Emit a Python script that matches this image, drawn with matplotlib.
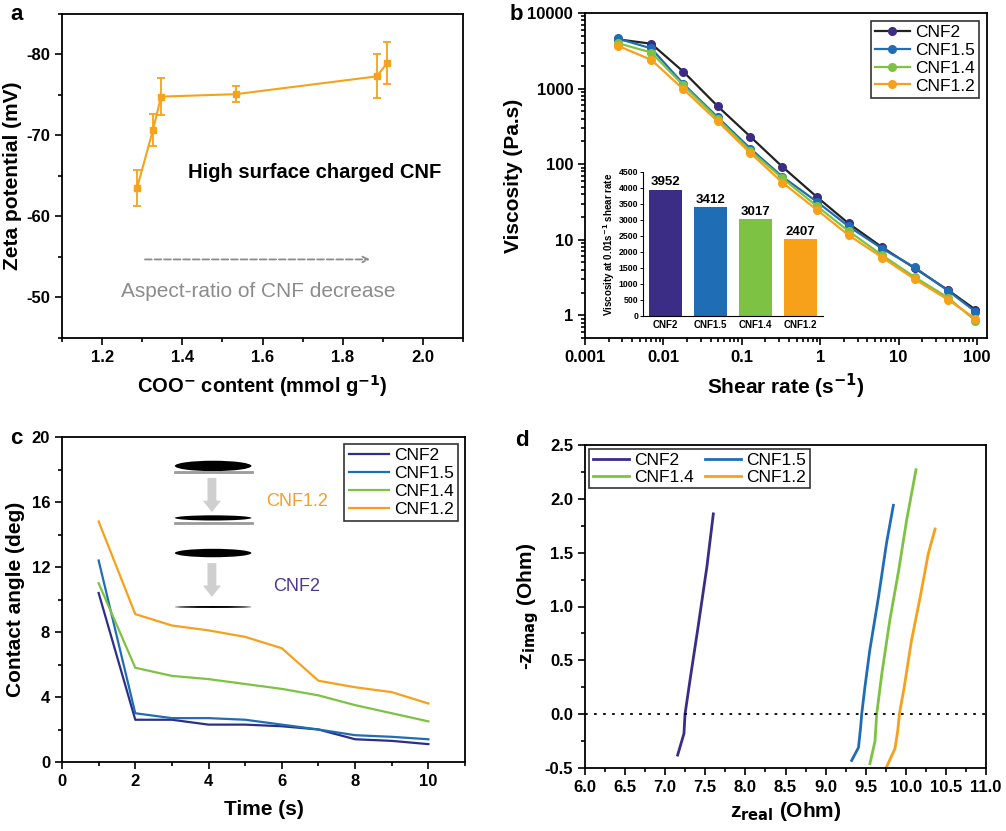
import matplotlib
matplotlib.use('Agg')
import matplotlib.pyplot as plt
from matplotlib.patches import Ellipse, FancyArrow
from matplotlib.ticker import MultipleLocator, FixedLocator, FuncFormatter, LogLocator, NullFormatter

plt.rcParams['font.family'] = ['Liberation Sans', 'DejaVu Sans']
plt.rcParams['font.weight'] = 'bold'
plt.rcParams['axes.linewidth'] = 1.3
plt.rcParams['axes.unicode_minus'] = False

# ---- data ----
# a: zeta potential vs carboxylate content
coo_content = [1.287, 1.327, 1.347, 1.533, 1.885, 1.91]
zeta = [-63.5, -70.7, -74.8, -75.1, -77.3, -78.9]
zeta_err = [2.2, 2.0, 2.3, 1.0, 2.7, 2.6]

# b: viscosity curves
samples = ['CNF2', 'CNF1.5', 'CNF1.4', 'CNF1.2']
shear_rate = [0.0026, 0.007, 0.018, 0.049, 0.129, 0.33, 0.9, 2.3, 6.2, 16, 43, 95]
visc_cnf2 = [4490, 3920, 1670, 586, 230, 92, 37, 16.4, 7.9, 4.2, 2.14, 1.19]
visc_cnf15 = [4600, 3400, 1150, 420, 160, 68, 32, 15, 7.6, 4.3, 2.1, 1.12]
visc_cnf14 = [4000, 3000, 1100, 400, 150, 65, 28, 13, 6.2, 3.2, 1.7, 0.85]
visc_cnf12 = [3700, 2400, 980, 370, 140, 57, 25, 11.5, 5.8, 3.0, 1.6, 0.9]
visc_at_001 = [3952, 3412, 3017, 2407]

# c: contact angle vs time
time_s = [1, 2, 3, 4, 5, 6, 7, 8, 9, 10]
ca_cnf2 = [10.4, 2.6, 2.6, 2.3, 2.3, 2.2, 2.0, 1.4, 1.3, 1.1]
ca_cnf15 = [12.4, 3.0, 2.7, 2.7, 2.6, 2.3, 2.0, 1.65, 1.55, 1.4]
ca_cnf14 = [11.0, 5.8, 5.3, 5.1, 4.8, 4.5, 4.1, 3.5, 3.0, 2.5]
ca_cnf12 = [14.8, 9.1, 8.4, 8.1, 7.7, 7.0, 5.0, 4.6, 4.3, 3.6]

# d: Nyquist plots
zr_cnf2 = [7.155, 7.234, 7.247, 7.31, 7.41, 7.52, 7.60]
zi_cnf2 = [-0.38, -0.18, 0.0, 0.32, 0.81, 1.37, 1.86]
zr_cnf15 = [9.325, 9.41, 9.437, 9.45, 9.49, 9.55, 9.66, 9.76, 9.845]
zi_cnf15 = [-0.43, -0.31, -0.12, 0.0, 0.25, 0.59, 1.09, 1.59, 1.94]
zr_cnf14 = [9.553, 9.616, 9.637, 9.70, 9.80, 9.91, 10.01, 10.127]
zi_cnf14 = [-0.46, -0.25, 0.0, 0.37, 0.87, 1.33, 1.80, 2.27]
zr_cnf12 = [9.76, 9.865, 9.90, 9.92, 9.98, 10.07, 10.18, 10.28, 10.365]
zi_cnf12 = [-0.49, -0.32, -0.15, 0.0, 0.25, 0.68, 1.09, 1.49, 1.72]

PURPLE = '#3b2c85'
NAVY = '#2b2f8a'
BLUE = '#1f6db4'
GREEN = '#7dc242'
ORANGE = '#f7a11a'

W, H = 1006, 831
fig = plt.figure(figsize=(W / 100, H / 100), dpi=100)

TICK = 12
LABEL = 15
LEG = 12.5


def ax_px(left, top, right, bottom):
    return fig.add_axes([left / W, 1 - bottom / H, (right - left) / W, (bottom - top) / H])


def style(ax, size=TICK):
    ax.tick_params(which='both', direction='out', top=False, right=False, width=1.2, labelsize=size)
    ax.tick_params(which='major', length=5)
    ax.tick_params(which='minor', length=3)
    for lab in ax.get_xticklabels() + ax.get_yticklabels():
        lab.set_fontweight('bold')


def legend(ax, handles=None, labels=None, **kw):
    if handles is None:
        handles, labels = ax.get_legend_handles_labels()
    leg = ax.legend(handles, labels, frameon=True, fancybox=False, edgecolor='black',
                    prop={'weight': 'normal', 'size': LEG}, **kw)
    leg.get_frame().set_linewidth(1.2)
    return leg


# ---- panel a ----
ax = ax_px(62, 14, 463, 338)
ax.errorbar(coo_content, zeta, yerr=zeta_err, color='#f4a31b', marker='s', markersize=5,
            capsize=3, lw=1.5, elinewidth=1.3, capthick=1.3)
ax.set_xlim(1.1, 2.1)
ax.set_ylim(-45, -85)
ax.xaxis.set_major_locator(FixedLocator([1.2, 1.4, 1.6, 1.8, 2.0]))
ax.xaxis.set_minor_locator(MultipleLocator(0.1))
ax.yaxis.set_major_locator(FixedLocator([-80, -70, -60, -50]))
ax.yaxis.set_minor_locator(MultipleLocator(5))
style(ax)
ax.set_xlabel('COO$^{\\mathbf{-}}$ content (mmol g$^{\\mathbf{-1}}$)', fontsize=LABEL - 0.5,
              fontweight='bold', labelpad=6)
ax.set_ylabel('Zeta potential (mV)', fontsize=LABEL, fontweight='bold', labelpad=3)
ax.text(1.73, -65.4, 'High surface charged CNF', fontsize=14.5, fontweight='bold', ha='center', va='center')
ax.annotate('', xy=(1.875, -54.7), xytext=(1.3, -54.7),
            arrowprops=dict(arrowstyle='->', linestyle='--', color='#8c8c8c', lw=1.3))
ax.text(1.59, -50.8, 'Aspect-ratio of CNF decrease', fontsize=15, fontweight='normal',
        color='#8c8c8c', ha='center', va='center')
fig.text(10 / W, 1 - 15 / H, 'a', fontsize=16, fontweight='bold', ha='left', va='center')

# ---- panel b ----
ax = ax_px(585, 13, 987, 338)
visc = [visc_cnf2, visc_cnf15, visc_cnf14, visc_cnf12]
line_cols = ['#222222', BLUE, GREEN, ORANGE]
mark_cols = [PURPLE, BLUE, GREEN, ORANGE]
for name, v, lc, mc in zip(samples, visc, line_cols, mark_cols):
    ax.plot(shear_rate, v, color=lc, lw=1.6, marker='o', markersize=5.5,
            markerfacecolor=mc, markeredgecolor=mc, label=name)
ax.set_xscale('log')
ax.set_yscale('log')
ax.set_xlim(0.001, 134)
ax.set_ylim(0.5, 10000)
fmt = FuncFormatter(lambda v, p: '{:g}'.format(v))
ax.xaxis.set_major_locator(LogLocator(base=10, numticks=10))
ax.yaxis.set_major_locator(LogLocator(base=10, numticks=10))
ax.xaxis.set_major_formatter(fmt)
ax.yaxis.set_major_formatter(fmt)
ax.xaxis.set_minor_locator(LogLocator(base=10, subs=range(2, 10), numticks=20))
ax.yaxis.set_minor_locator(LogLocator(base=10, subs=range(2, 10), numticks=20))
ax.xaxis.set_minor_formatter(NullFormatter())
ax.yaxis.set_minor_formatter(NullFormatter())
style(ax)
ax.set_xlabel('Shear rate (s$^{\\mathbf{-1}}$)', fontsize=LABEL, fontweight='bold', labelpad=5)
ax.set_ylabel('Viscosity (Pa.s)', fontsize=LABEL, fontweight='bold', labelpad=3)
legend(ax, loc='upper right', handlelength=2.0, borderpad=0.25, labelspacing=0.15,
       handletextpad=0.3, borderaxespad=0.45)
fig.text(510 / W, 1 - 15 / H, 'b', fontsize=16, fontweight='bold', ha='left', va='center')

# inset bars
ins = ax_px(643, 172, 823, 316)
ins.patch.set_alpha(0)
bar_cols = [PURPLE, BLUE, GREEN, ORANGE]
pos = range(len(samples))
bars = ins.bar(pos, visc_at_001, width=0.72, color=bar_cols)
for b, v in zip(bars, visc_at_001):
    ins.text(b.get_x() + b.get_width() / 2, v + 40, str(v), ha='center', va='bottom',
             fontsize=9.5, fontweight='bold')
ins.set_xlim(-0.5, 3.5)
ins.set_ylim(0, 4500)
ins.set_xticks(list(pos))
ins.set_xticklabels(samples)
ins.yaxis.set_major_locator(MultipleLocator(500))
ins.spines['top'].set_visible(False)
ins.spines['right'].set_visible(False)
ins.spines['left'].set_linewidth(0.8)
ins.spines['bottom'].set_linewidth(0.8)
ins.tick_params(which='both', direction='out', length=2, width=0.7, labelsize=6.3, pad=1.5)
ins.tick_params(axis='x', length=0, labelsize=7, pad=3)
for lab in ins.get_xticklabels() + ins.get_yticklabels():
    lab.set_fontweight('bold')
ins.set_ylabel('Viscosity at 0.01s$^{\\mathbf{-1}}$ shear rate', fontsize=7, fontweight='bold', labelpad=1)

# ---- panel c ----
ax = ax_px(62, 437, 465, 762)
ca = [ca_cnf2, ca_cnf15, ca_cnf14, ca_cnf12]
c_cols = [NAVY, BLUE, GREEN, ORANGE]
for name, v, c in zip(samples, ca, c_cols):
    ax.plot(time_s, v, color=c, lw=1.6, label=name)
ax.set_xlim(0, 11)
ax.set_ylim(0, 20)
ax.xaxis.set_major_locator(FixedLocator([0, 2, 4, 6, 8, 10]))
ax.xaxis.set_minor_locator(MultipleLocator(1))
ax.yaxis.set_major_locator(MultipleLocator(4))
ax.yaxis.set_minor_locator(MultipleLocator(2))
style(ax)
ax.set_xlabel('Time (s)', fontsize=LABEL, fontweight='bold', labelpad=8)
ax.set_ylabel('Contact angle (deg)', fontsize=LABEL, fontweight='bold', labelpad=5)
legend(ax, loc='upper right', handlelength=2.3, borderpad=0.25, labelspacing=0.15,
       handletextpad=0.3, borderaxespad=0.4)

# droplet sketches
tr = ax.transAxes
drops = [(0.911, 0.032), (0.751, 0.016), (0.643, 0.026), (0.477, 0.006)]
for yc, h in drops:
    ax.add_patch(Ellipse((0.375, yc), 0.19, h, transform=tr, color='black', lw=0))
for yl in [0.892, 0.735]:
    ax.plot([0.28, 0.471], [yl, yl], transform=tr, color='#9a9a9a', lw=2)
for y0, y1 in [(0.874, 0.769), (0.612, 0.508)]:
    ax.add_patch(FancyArrow(0.372, y0, 0, y1 - y0, width=0.022, head_width=0.045,
                            head_length=0.035, length_includes_head=True,
                            transform=tr, color='#cfcfcf', lw=0))
ax.text(0.583, 0.8, 'CNF1.2', transform=tr, fontsize=13, fontweight='normal',
        color='#f0a030', ha='center', va='center')
ax.text(0.583, 0.54, 'CNF2', transform=tr, fontsize=13, fontweight='normal',
        color='#4b3a8c', ha='center', va='center')
fig.text(10 / W, 1 - 438 / H, 'c', fontsize=16, fontweight='bold', ha='left', va='center')

# ---- panel d ----
ax = ax_px(585, 445, 986, 768)
zr = [zr_cnf2, zr_cnf15, zr_cnf14, zr_cnf12]
zi = [zi_cnf2, zi_cnf15, zi_cnf14, zi_cnf12]
d_cols = [PURPLE, BLUE, GREEN, ORANGE]
handles = []
for name, x, y, c in zip(samples, zr, zi, d_cols):
    handles += ax.plot(x, y, color=c, lw=2, label=name)
ax.axhline(0, color='black', lw=1.3, ls=(0, (1.5, 3.5)))
ax.set_xlim(6, 11)
ax.set_ylim(-0.5, 2.5)
ax.xaxis.set_major_locator(MultipleLocator(0.5))
ax.xaxis.set_minor_locator(MultipleLocator(0.25))
ax.yaxis.set_major_locator(MultipleLocator(0.5))
ax.yaxis.set_minor_locator(MultipleLocator(0.25))
ax.xaxis.set_major_formatter(FuncFormatter(lambda v, p: '{:.1f}'.format(v)))
ax.yaxis.set_major_formatter(FuncFormatter(lambda v, p: '{:.1f}'.format(v)))
style(ax)
ax.set_xlabel('z$_{\\mathbf{real}}$ (Ohm)', fontsize=LABEL, fontweight='bold', labelpad=4)
ax.set_ylabel('-z$_{\\mathbf{imag}}$ (Ohm)', fontsize=LABEL, fontweight='bold', labelpad=3)
order = [0, 2, 1, 3]
legend(ax, [handles[i] for i in order], [samples[i] for i in order], loc='upper left', ncol=2,
       handlelength=2.1, borderpad=0.2, labelspacing=0.1, handletextpad=0.3,
       columnspacing=0.6, borderaxespad=0.25)
fig.text(515 / W, 1 - 440 / H, 'd', fontsize=16, fontweight='bold', ha='left', va='center')

fig.savefig('out.png', dpi=100)
